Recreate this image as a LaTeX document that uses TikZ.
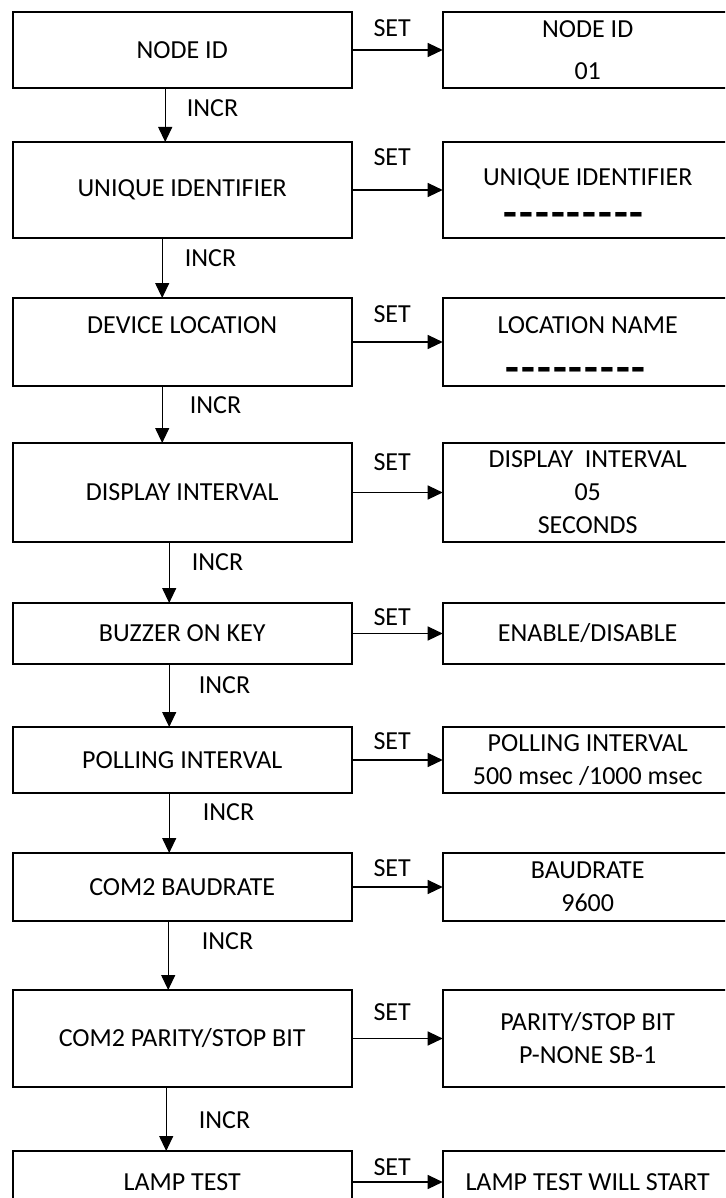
\documentclass[tikz,border=0pt]{standalone}
\usepackage{fontspec}
\usepackage{graphicx}
\setmainfont{Carlito}
\usetikzlibrary{arrows.meta,positioning}

\newcommand{\blankfield}[1]{\smash{\raisebox{#1}{\scalebox{1.22}[2]{\bfseries –––––––––}}}}

\begin{document}
\begin{tikzpicture}[x=1pt, y=-1pt,
    font=\fontsize{26}{33}\selectfont,
    lbox/.style={rectangle, draw, line width=1.8pt, outer sep=0pt, minimum width=339pt, align=center, inner sep=0pt},
    rbox/.style={rectangle, draw, line width=1.8pt, outer sep=0pt, minimum width=290pt, align=center, inner sep=0pt},
    lbl/.style={inner sep=0pt},
    ar/.style={line width=1.2pt, -{Triangle[length=15pt, width=14pt]}}]
    \useasboundingbox (0,0) rectangle (725,1198);
    \clip (0,0) rectangle (725,1198);
    % menu column
    \node [lbox, minimum height=76pt, anchor=north west] (nid) at (12.7,12) {NODE ID};
    \node [lbox, minimum height=96pt, below=54pt of nid] (uid) {UNIQUE IDENTIFIER};
    \node [lbox, minimum height=88pt, below=60pt of uid] (loc) {DEVICE LOCATION\\ \mbox{}};
    \node [lbox, minimum height=99pt, below=57pt of loc] (disp) {DISPLAY INTERVAL};
    \node [lbox, minimum height=61pt, below=61pt of disp] (buz) {BUZZER ON KEY};
    \node [lbox, minimum height=66pt, below=63pt of buz] (poll) {POLLING INTERVAL};
    \node [lbox, minimum height=68pt, below=60pt of poll] (baud) {COM2 BAUDRATE};
    \node [lbox, minimum height=97pt, below=69pt of baud] (par) {COM2 PARITY/STOP BIT};
    \node [lbox, minimum height=62pt, below=64pt of par] (lamp) {LAMP TEST};
    % value column
    \node [rbox, minimum height=76pt, right=91pt of nid] (nidv) {NODE ID\\[9pt]01};
    \node [rbox, minimum height=96pt, right=91pt of uid] (uidv) {UNIQUE IDENTIFIER\\[-7pt]\hspace*{-28pt}\blankfield{-17.75pt}};
    \node [rbox, minimum height=88pt, right=91pt of loc] (locv) {LOCATION NAME\\\hspace*{-24pt}\blankfield{-17.25pt}};
    \node [rbox, minimum height=99pt, right=91pt of disp] (dispv) {DISPLAY\ \ INTERVAL\\05\\SECONDS};
    \node [rbox, minimum height=61pt, right=91pt of buz] (buzv) {ENABLE/DISABLE};
    \node [rbox, minimum height=66pt, right=91pt of poll] (pollv) {POLLING INTERVAL\\500 msec /1000 msec};
    \node [rbox, minimum height=68pt, right=91pt of baud] (baudv) {BAUDRATE\\9600};
    \node [rbox, minimum height=97pt, right=91pt of par] (parv) {PARITY/STOP BIT\\P-NONE SB-1};
    \node [rbox, minimum height=62pt, right=91pt of lamp] (lampv) {LAMP TEST WILL START};
    % SET arrows
    \draw [ar] (nid) -- node[lbl, above=13pt, xshift=-5pt]{SET} (nidv);
    \draw [ar] (uid) -- node[lbl, above=24pt, xshift=-5pt]{SET} (uidv);
    \draw [ar] (loc) -- node[lbl, above=19pt, xshift=-5pt]{SET} (locv);
    \draw [ar] (disp) -- node[lbl, above=21pt, xshift=-5pt]{SET} (dispv);
    \draw [ar] (buz) -- node[lbl, above=7pt, xshift=-5pt]{SET} (buzv);
    \draw [ar] (poll) -- node[lbl, above=10pt, xshift=-5pt]{SET} (pollv);
    \draw [ar] (baud) -- node[lbl, above=10pt, xshift=-5pt]{SET} (baudv);
    \draw [ar] (par) -- node[lbl, above=17pt, xshift=-5pt]{SET} (parv);
    \draw [ar] (lamp) -- node[lbl, above=6pt, xshift=-5pt]{SET} (lampv);
    % INCR arrows
    \draw [ar] ([xshift=-17pt]nid.south) -- node[lbl, pos=0.37, right=21pt]{INCR} ([xshift=-17pt]uid.north);
    \draw [ar] ([xshift=-20pt]uid.south) -- node[lbl, pos=0.33, right=22pt]{INCR} ([xshift=-20pt]loc.north);
    \draw [ar] ([xshift=-20pt]loc.south) -- node[lbl, pos=0.33, right=27pt]{INCR} ([xshift=-20pt]disp.north);
    \draw [ar] ([xshift=-13pt]disp.south) -- node[lbl, pos=0.33, right=22pt]{INCR} ([xshift=-13pt]buz.north);
    \draw [ar] ([xshift=-13pt]buz.south) -- node[lbl, pos=0.33, right=29pt]{INCR} ([xshift=-13pt]poll.north);
    \draw [ar] ([xshift=-13pt]poll.south) -- node[lbl, pos=0.32, right=33pt]{INCR} ([xshift=-13pt]baud.north);
    \draw [ar] ([xshift=-14pt]baud.south) -- node[lbl, pos=0.29, right=33pt]{INCR} ([xshift=-14pt]par.north);
    \draw [ar] ([xshift=-16pt]par.south) -- node[lbl, pos=0.52, right=32pt]{INCR} ([xshift=-16pt]lamp.north);
\end{tikzpicture}
\end{document}
